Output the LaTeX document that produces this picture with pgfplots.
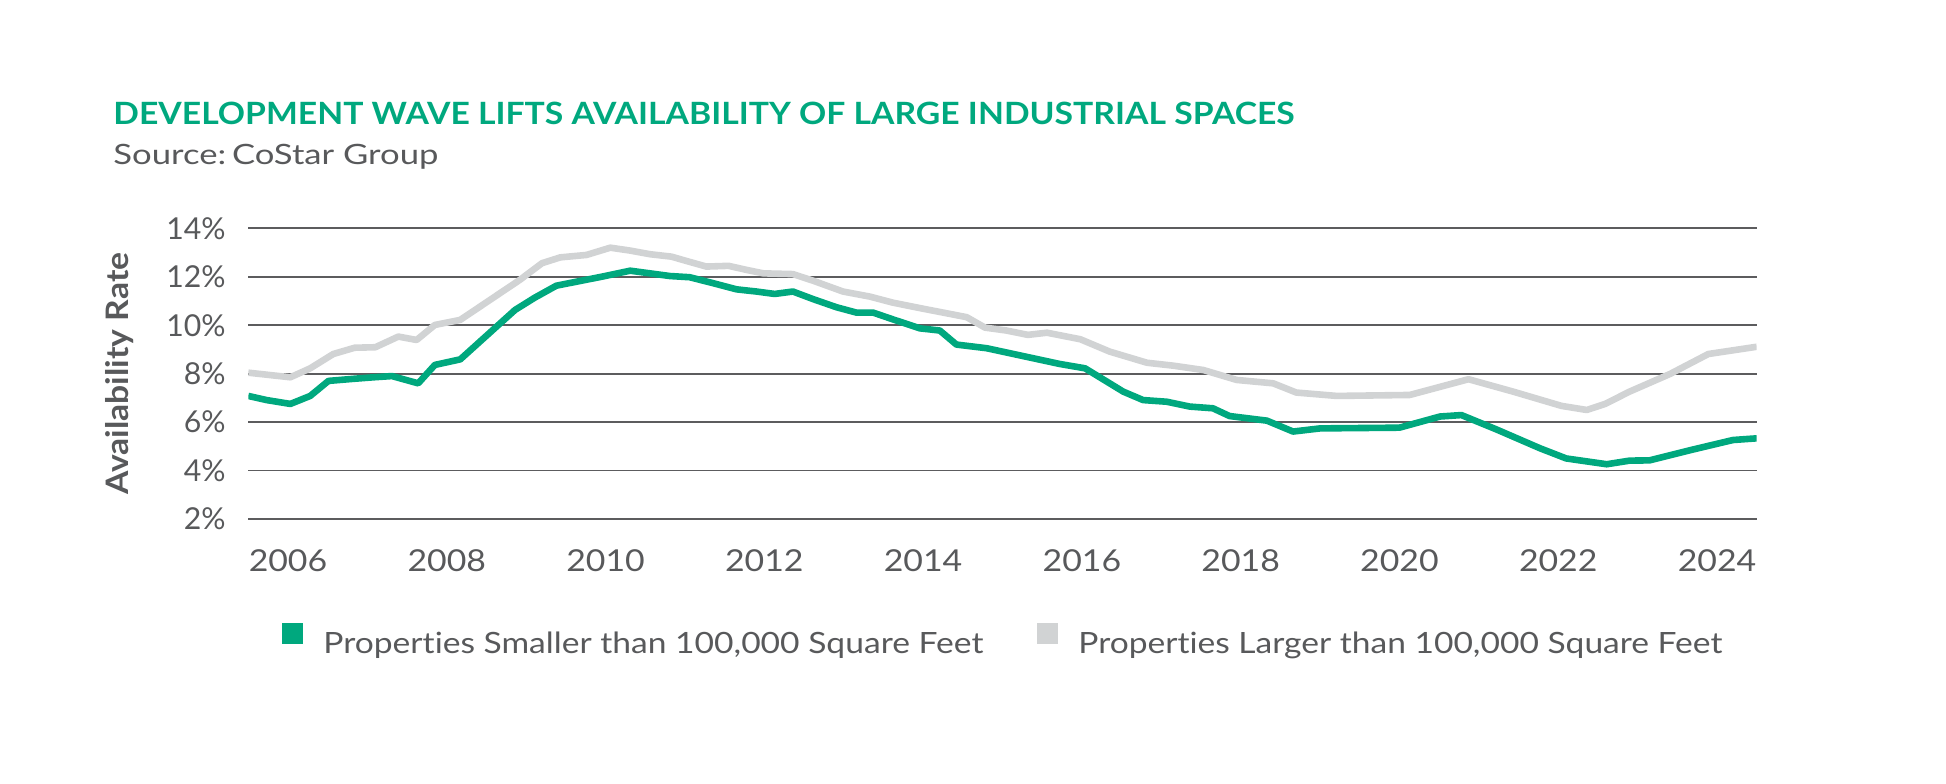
\documentclass[border=0pt]{standalone}
\usepackage{pgfplots}
\pgfplotsset{compat=1.18}
\usepackage{fontspec}
\setmainfont{Lato}[Ligatures=NoCommon]
\usepackage{graphicx}
\definecolor{cgreen}{RGB}{0,168,126}
\definecolor{cgray}{RGB}{209,211,212}
\definecolor{tgray}{RGB}{88,89,91}
\definecolor{gridc}{RGB}{92,92,94}
\newcommand\wl[1]{\scalebox{1.12}[1]{#1}}
\begin{document}
\begin{tikzpicture}
\useasboundingbox (0,0) rectangle (973bp,392bp);
\node[anchor=base west, inner sep=0pt, text=cgreen, font=\fontsize{15.35bp}{18bp}\selectfont\bfseries] at (56.5bp,329.5bp) {\resizebox{590.5bp}{\height}{DEVELOPMENT WAVE LIFTS AVAILABILITY OF LARGE INDUSTRIAL SPACES}};
\node[anchor=base west, inner sep=0pt, text=tgray, font=\fontsize{14bp}{17bp}\selectfont] at (56.5bp,309.5bp) {\resizebox{162.5bp}{\height}{Source:\,CoStar Group}};
\begin{axis}[
  at={(124.15bp,132.5bp)}, anchor=south west,
  scale only axis, width=754.2bp, height=145.35bp,
  xmin=2005.5, xmax=2024.5, ymin=2, ymax=14,
  axis line style={draw=none},
  major tick length=0pt,
  xtick={2006,2008,2010,2012,2014,2016,2018,2020,2022,2024},
  xticklabels={\wl{2006},\wl{2008},\wl{2010},\wl{2012},\wl{2014},\wl{2016},\wl{2018},\wl{2020},\wl{2022},\wl{2024}},
  ytick={2,4,6,8,10,12,14},
  yticklabels={2\%,4\%,6\%,8\%,10\%,12\%,14\%},
  ymajorgrids, grid style={draw=gridc, line width=0.9bp},
  tick label style={text=tgray, font=\fontsize{15.1bp}{18bp}\selectfont},
  xticklabel style={anchor=base, inner sep=0pt, yshift=-26.3bp},
  yticklabel style={anchor=east, inner sep=0pt, xshift=-11.15bp},
  ylabel={\resizebox{121bp}{\height}{Availability Rate}},
  ylabel style={at={(axis description cs:-0.0851,0.5)}, anchor=center, text=tgray, font=\fontsize{15.5bp}{18bp}\selectfont\bfseries},
  legend columns=2,
  legend image code/.code={\fill[#1, draw=none] (0bp,0bp) rectangle (10.5bp,10.5bp);},
  legend style={at={(axis description cs:0.0226,-0.358)}, anchor=north west,
    draw=none, fill=none, inner sep=0pt, outer sep=0pt,
    font=\fontsize{14.65bp}{17bp}\selectfont, text=tgray,
    nodes={inner sep=0pt},
    /tikz/every odd column/.append style={column sep=10bp},
    /tikz/every even column/.append style={column sep=27bp}},
  every axis plot/.append style={line width=3.3bp, line join=round, no markers},
]
\addplot[cgreen] coordinates {
(2005.50,7.08) (2005.73,6.91) (2006.03,6.75) (2006.28,7.08) (2006.51,7.70)
(2006.80,7.78) (2007.08,7.85) (2007.31,7.90) (2007.64,7.60) (2007.85,8.36)
(2008.17,8.59) (2008.86,10.63) (2009.11,11.14) (2009.38,11.63) (2009.64,11.80)
(2009.95,12.00) (2010.31,12.25) (2010.56,12.14) (2010.81,12.03) (2011.06,11.98)
(2011.36,11.73) (2011.65,11.48) (2011.90,11.39) (2012.13,11.29) (2012.36,11.39)
(2012.62,11.07) (2012.91,10.74) (2013.16,10.52) (2013.37,10.52) (2013.62,10.24)
(2013.96,9.87) (2014.21,9.78) (2014.42,9.20) (2014.80,9.05) (2015.72,8.40)
(2016.04,8.22) (2016.52,7.26) (2016.77,6.91) (2017.07,6.84) (2017.36,6.64)
(2017.65,6.57) (2017.86,6.25) (2018.33,6.06) (2018.66,5.61) (2019.00,5.74)
(2020.00,5.77) (2020.51,6.23) (2020.78,6.29) (2021.22,5.70) (2021.77,4.92)
(2022.10,4.50) (2022.61,4.26) (2022.90,4.41) (2023.15,4.42) (2023.70,4.87)
(2024.20,5.26) (2024.50,5.33)
};
\addlegendentry{\resizebox{330bp}{\height}{Properties Smaller than 100,000 Square Feet}}
\addplot[cgray] coordinates {
(2005.50,8.04) (2006.03,7.85) (2006.28,8.22) (2006.57,8.81) (2006.84,9.07)
(2007.10,9.09) (2007.39,9.53) (2007.62,9.39) (2007.85,10.01) (2008.17,10.22)
(2008.92,11.87) (2009.20,12.56) (2009.43,12.80) (2009.76,12.90) (2010.06,13.20)
(2010.31,13.08) (2010.56,12.93) (2010.83,12.83) (2011.02,12.65) (2011.27,12.42)
(2011.55,12.45) (2011.78,12.28) (2011.99,12.14) (2012.36,12.11) (2012.62,11.83)
(2012.99,11.39) (2013.33,11.18) (2013.62,10.93) (2014.00,10.68) (2014.30,10.49)
(2014.55,10.33) (2014.78,9.90) (2015.05,9.78) (2015.32,9.60) (2015.56,9.69)
(2015.98,9.42) (2016.35,8.91) (2016.82,8.45) (2017.15,8.33) (2017.53,8.15)
(2017.95,7.74) (2018.41,7.60) (2018.70,7.22) (2019.21,7.08) (2020.13,7.12)
(2020.87,7.77) (2021.43,7.26) (2022.04,6.67) (2022.36,6.50) (2022.59,6.75)
(2022.90,7.26) (2023.41,7.99) (2023.89,8.81) (2024.50,9.11)
};
\addlegendentry{\resizebox{322bp}{\height}{Properties Larger than 100,000 Square Feet}}
\end{axis}
\end{tikzpicture}
\end{document}
